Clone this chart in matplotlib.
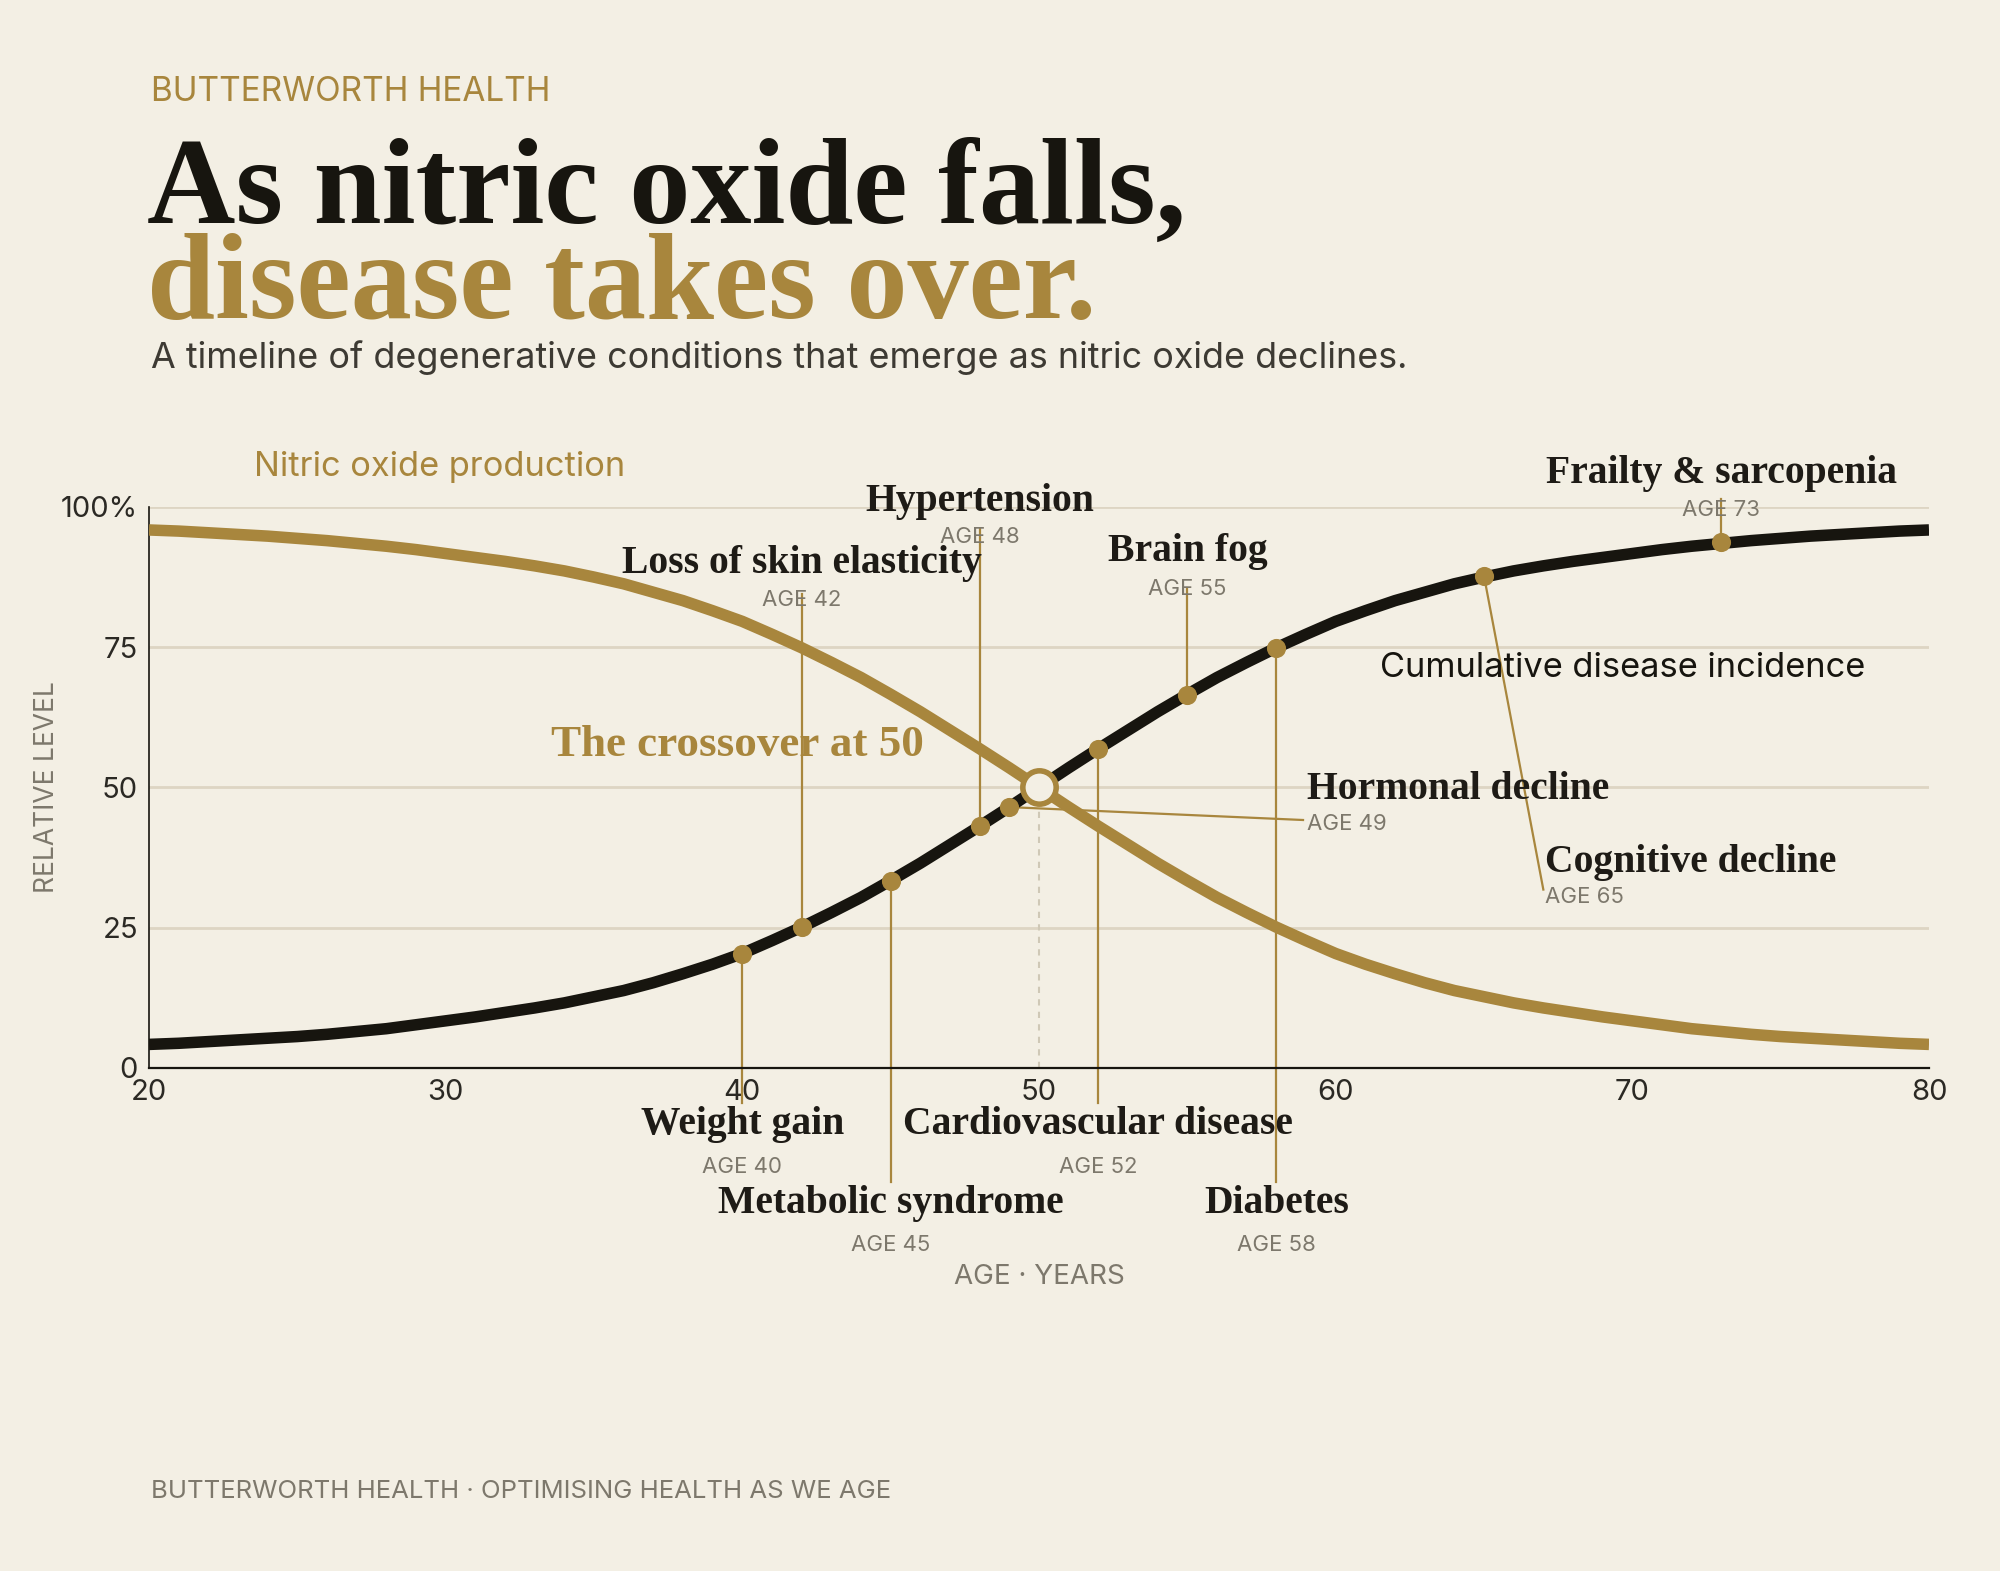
import matplotlib.pyplot as plt

# colours / fonts
BG = '#F3EFE4'
GOLD = '#A8863D'
INK = '#17150F'
GREY = '#7D786C'
GRID = '#DDD5C3'
SERIF = 'Liberation Serif'
SANS = 'Inter'

# --- data (one value per year of age) ---
ages = list(range(20, 81))
disease_incidence = [4.2, 4.4, 4.7, 5.0, 5.3, 5.6, 6.0, 6.5, 7.0, 7.7, 8.4,
                     9.1, 9.9, 10.7, 11.6, 12.7, 13.8, 15.2, 16.8, 18.5, 20.4,
                     22.7, 25.1, 27.7, 30.4, 33.4, 36.5, 39.8, 43.1, 46.5, 50.0,
                     53.5, 56.9, 60.2, 63.5, 66.6, 69.6, 72.3, 74.9, 77.3, 79.6,
                     81.5, 83.3, 84.8, 86.3, 87.5, 88.6, 89.5, 90.3, 91.0, 91.7,
                     92.4, 93.0, 93.5, 94.0, 94.4, 94.8, 95.1, 95.4, 95.7, 95.9]
nitric_oxide = [95.9, 95.7, 95.4, 95.1, 94.8, 94.4, 94.0, 93.5, 93.0, 92.4, 91.7,
                91.0, 90.3, 89.5, 88.6, 87.5, 86.3, 84.8, 83.3, 81.5, 79.6,
                77.3, 74.9, 72.3, 69.6, 66.6, 63.5, 60.2, 56.9, 53.5, 50.0,
                46.5, 43.1, 39.8, 36.5, 33.4, 30.4, 27.7, 25.1, 22.7, 20.4,
                18.5, 16.8, 15.2, 13.8, 12.7, 11.6, 10.7, 9.9, 9.1, 8.4,
                7.7, 7.0, 6.5, 6.0, 5.6, 5.3, 5.0, 4.7, 4.4, 4.2]

event_names = ['Weight gain', 'Loss of skin elasticity', 'Metabolic syndrome',
               'Hypertension', 'Hormonal decline', 'Cardiovascular disease',
               'Brain fog', 'Diabetes', 'Cognitive decline', 'Frailty & sarcopenia']
event_ages = [40, 42, 45, 48, 49, 52, 55, 58, 65, 73]
event_levels = [20.4, 25.1, 33.3, 43.1, 46.5, 56.8, 66.4, 74.8, 87.7, 93.8]

crossover_age = 50
crossover_level = 50

x_ticks = [20, 30, 40, 50, 60, 70, 80]
y_ticks = [0, 25, 50, 75, 100]
y_tick_labels = ['0', '25', '50', '75', '100%']

# label placement: age -> (text x, name y, age-label y, leader end x, leader end y, align)
label_layout = {
    40: (40, -10.0, -17.6, 40, -6.3, 'center'),
    42: (42, 89.9, 83.4, 42, 84.5, 'center'),
    45: (45, -24.1, -31.6, 45, -20.3, 'center'),
    48: (48, 101.0, 94.6, 48, 96.0, 'center'),
    49: (59.05, 49.6, 43.5, 58.9, 44.2, 'left'),
    52: (52, -10.0, -17.6, 52, -6.3, 'center'),
    55: (55, 92.1, 85.4, 55, 85.5, 'center'),
    58: (58, -24.1, -31.6, 58, -20.3, 'center'),
    65: (67.05, 36.6, 30.4, 67.0, 31.8, 'left'),
    73: (73, 106.0, 99.4, 73, 101.4, 'center'),
}

fig = plt.figure(figsize=(20, 15.71), dpi=100, facecolor=BG)
ax = fig.add_axes([0.0745, 0.3202, 0.89, 0.3571])
ax.set_facecolor(BG)

ax.set_xlim(20, 80)
ax.set_ylim(0, 100)

# grid + spines
ax.set_yticks(y_ticks)
ax.set_yticklabels(y_tick_labels)
ax.set_xticks(x_ticks)
ax.grid(axis='y', color=GRID, lw=2, zorder=0)
ax.set_axisbelow(True)
for s in ['top', 'right']:
    ax.spines[s].set_visible(False)
ax.spines['left'].set_color(INK)
ax.spines['left'].set_linewidth(1.2)
ax.spines['bottom'].set_color(INK)
ax.spines['bottom'].set_linewidth(1.6)
ax.tick_params(length=0, labelsize=21, labelcolor='#2B2924', pad=8)
for lab in ax.get_xticklabels() + ax.get_yticklabels():
    lab.set_family(SANS)

# crossover guide
ax.plot([crossover_age, crossover_age], [0, crossover_level], ls=(0, (3, 3)),
        color='#CFC8B6', lw=1.5, zorder=1)

# leader lines
for a, lvl in zip(event_ages, event_levels):
    tx, ny, ay, ex, ey, ha = label_layout[a]
    ax.plot([a, ex], [lvl, ey], color=GOLD, lw=1.6, zorder=1.5, clip_on=False)

# curves
ax.plot(ages, disease_incidence, color=INK, lw=8.3, solid_capstyle='butt',
        solid_joinstyle='round', zorder=3)
ax.plot(ages, nitric_oxide, color=GOLD, lw=8.3, solid_capstyle='butt',
        solid_joinstyle='round', zorder=3.2)

ax.scatter(event_ages, event_levels, s=190, color=GOLD, zorder=4, linewidths=0)
ax.plot([crossover_age], [crossover_level], 'o', ms=24, mfc=BG, mec=GOLD, mew=4, zorder=5)

# event labels
for name, a in zip(event_names, event_ages):
    tx, ny, ay, ex, ey, ha = label_layout[a]
    ax.text(tx, ny, name, family=SERIF, weight='bold', fontsize=28.5, color='#1E1B16',
            ha=ha, va='center', zorder=6, clip_on=False)
    ax.text(tx, ay, f'AGE {a}', family=SANS, fontsize=16, color=GREY,
            ha=ha, va='center', zorder=6, clip_on=False)

# series labels
ax.text(23.54, 107.1, 'Nitric oxide production', family=SANS, fontsize=24.8,
        color=GOLD, ha='left', va='center', clip_on=False)
ax.text(61.5, 71.3, 'Cumulative disease incidence', family=SANS, fontsize=24.8,
        color=INK, ha='left', va='center', zorder=6)
ax.text(39.85, 57.5, 'The crossover at 50', family=SERIF, weight='bold', fontsize=32.5,
        color=GOLD, ha='center', va='center', zorder=6)

# axis titles
ax.text(50, -37.3, 'AGE · YEARS', family=SANS, fontsize=20, color=GREY,
        ha='center', va='center', clip_on=False)
fig.text(0.0235, 0.499, 'RELATIVE LEVEL', family=SANS, fontsize=19, color=GREY,
         rotation=90, ha='center', va='center')

# header
fig.text(0.0753, 0.9412, 'BUTTERWORTH HEALTH', family=SANS, fontsize=24,
         color=GOLD, ha='left', va='center')
fig.text(0.0735, 0.858, 'As nitric oxide falls,', family=SERIF, weight='bold',
         fontsize=88, color=INK, ha='left', va='baseline')
fig.text(0.0735, 0.7976, 'disease takes over.', family=SERIF, weight='bold',
         fontsize=88, color=GOLD, ha='left', va='baseline')
fig.text(0.0755, 0.7658, 'A timeline of degenerative conditions that emerge as nitric oxide declines.',
         family=SANS, fontsize=25.8, color='#3D3A33', ha='left', va='baseline')

# footer
fig.text(0.0753, 0.0503, 'BUTTERWORTH HEALTH · OPTIMISING HEALTH AS WE AGE',
         family=SANS, fontsize=18.5, color=GREY, ha='left', va='center')

fig.savefig('out.png', dpi=100, facecolor=BG)
